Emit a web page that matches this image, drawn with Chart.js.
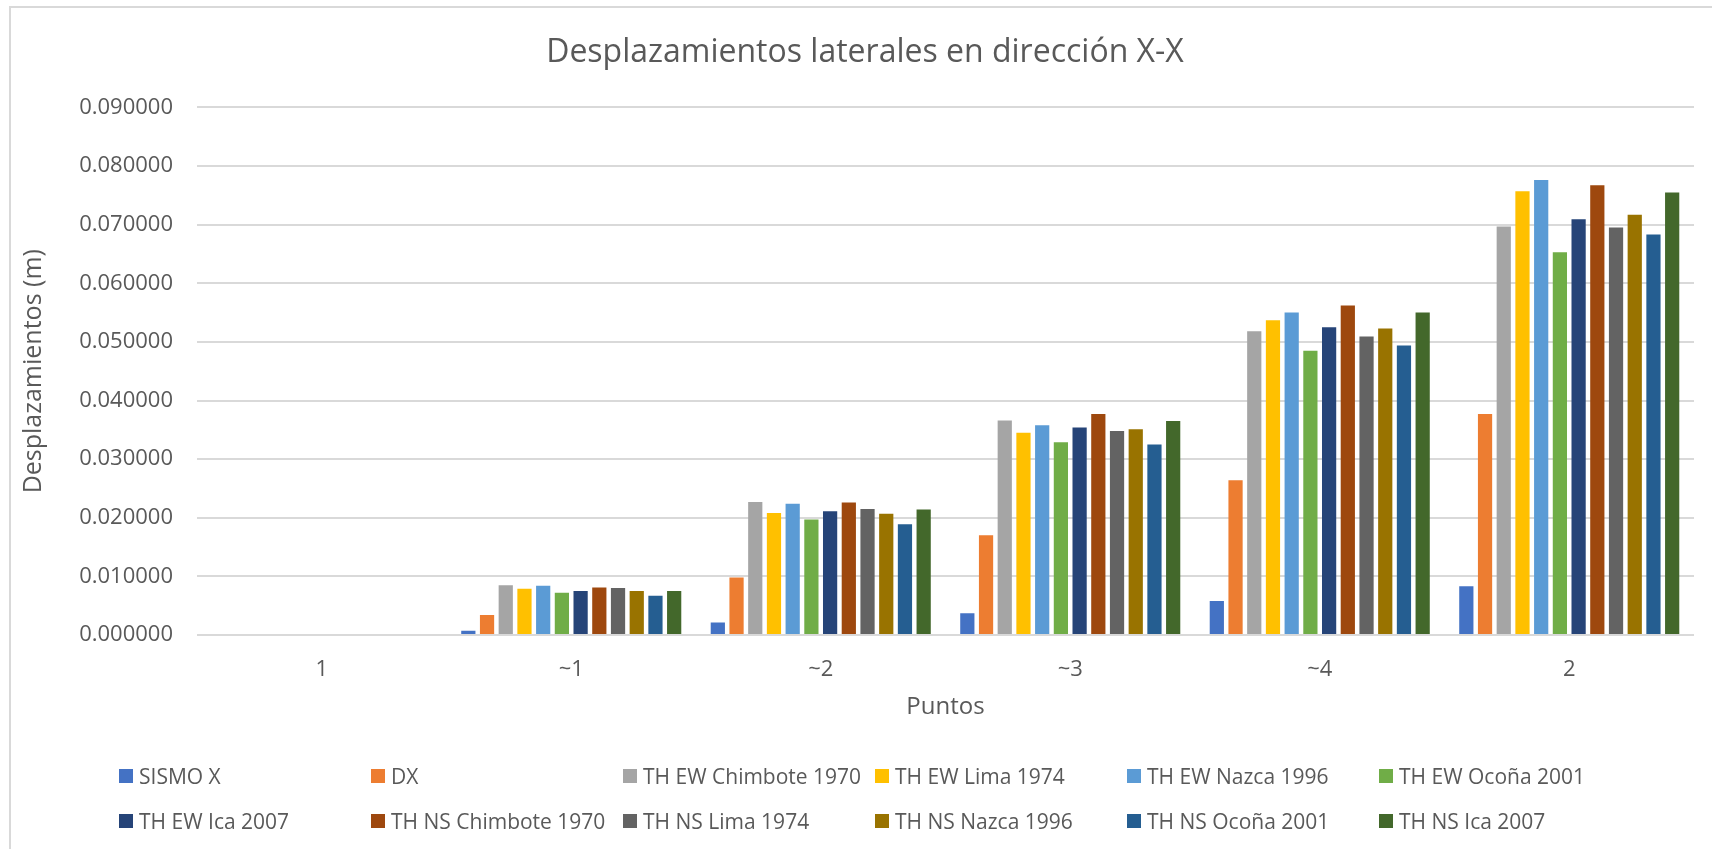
<!DOCTYPE html>
<html>
<head>
<meta charset="utf-8">
<script src="https://cdn.jsdelivr.net/npm/chart.js@4.4.1/dist/chart.umd.min.js"></script>
<style>
  body { margin: 0; background: #fff; overflow: hidden; }
  #wrap { position: relative; width: 1712px; height: 849px; }
  #frame { position: absolute; left: 9px; top: 6px; width: 1800px; height: 1000px; border: 2px solid #d9d9d9; box-sizing: border-box; }
  #chart { position: absolute; left: 0; top: 0; }
  #legend { position: absolute; left: 0; top: 0; font-family: "Open Sans", sans-serif; font-size: 21px; color: #595959; }
  .item { position: absolute; display: flex; align-items: center; white-space: nowrap; height: 30px; }
  .swatch { width: 14px; height: 14px; margin-right: 6px; }
</style>
</head>
<body>
<div id="wrap">
  <div id="frame"></div>
  <canvas id="chart" width="1712" height="849"></canvas>
  <div id="legend"></div>
</div>
<script>
const categories = ['1', '~1', '~2', '~3', '~4', '2']

const seriesNames = [
  'SISMO X', 'DX', 'TH EW Chimbote 1970', 'TH EW Lima 1974', 'TH EW Nazca 1996', 'TH EW Ocoña 2001',
  'TH EW Ica 2007', 'TH NS Chimbote 1970', 'TH NS Lima 1974', 'TH NS Nazca 1996', 'TH NS Ocoña 2001', 'TH NS Ica 2007'
]

const seriesColors = [
  '#4472c4', '#ed7d31', '#a5a5a5', '#ffc000', '#5b9bd5', '#70ad47',
  '#264478', '#9e480e', '#636363', '#997300', '#255e91', '#43682b'
]

// desplazamientos (m) por punto
const sismoX = [0, 0.00073, 0.00213, 0.0037, 0.0058, 0.0083]
const dx = [0, 0.0034, 0.0098, 0.0170, 0.0264, 0.0377]
const ewChimbote = [0, 0.0085, 0.0227, 0.0366, 0.0518, 0.0697]
const ewLima = [0, 0.0079, 0.0208, 0.0345, 0.0537, 0.0757]
const ewNazca = [0, 0.0084, 0.0224, 0.0358, 0.0550, 0.0776]
const ewOcona = [0, 0.0072, 0.0197, 0.0329, 0.0485, 0.0653]
const ewIca = [0, 0.0075, 0.0211, 0.0354, 0.0525, 0.0709]
const nsChimbote = [0, 0.0081, 0.0226, 0.0377, 0.0562, 0.0767]
const nsLima = [0, 0.0080, 0.0215, 0.0348, 0.0509, 0.0695]
const nsNazca = [0, 0.0075, 0.0207, 0.0351, 0.0523, 0.0717]
const nsOcona = [0, 0.0067, 0.0189, 0.0325, 0.0494, 0.0683]
const nsIca = [0, 0.0075, 0.0214, 0.0365, 0.0550, 0.0755]

const seriesValues = [sismoX, dx, ewChimbote, ewLima, ewNazca, ewOcona, ewIca, nsChimbote, nsLima, nsNazca, nsOcona, nsIca]

const textColor = '#595959'
const fontFamily = '"Open Sans", sans-serif'

const ctx = document.getElementById('chart').getContext('2d')

new Chart(ctx, {
  type: 'bar',
  data: {
    labels: categories,
    datasets: seriesNames.map((name, i) => ({
      label: name,
      data: seriesValues[i],
      backgroundColor: seriesColors[i],
      categoryPercentage: 0.9,
      barPercentage: 0.76
    }))
  },
  options: {
    responsive: false,
    animation: false,
    layout: {
      padding: { left: 36, right: 18, top: 0, bottom: 114 }
    },
    plugins: {
      legend: { display: false },
      tooltip: { enabled: false },
      title: {
        display: true,
        text: 'Desplazamientos laterales en dirección X-X',
        color: textColor,
        font: { family: fontFamily, size: 32, weight: 'normal' },
        padding: { top: 34, bottom: 35 }
      }
    },
    scales: {
      x: {
        grid: { display: false },
        border: { display: false },
        ticks: {
          color: textColor,
          font: { family: fontFamily, size: 22 },
          padding: 14
        },
        title: {
          display: true,
          text: 'Puntos',
          color: textColor,
          font: { family: fontFamily, size: 24 },
          padding: { top: 0, bottom: 13 }
        },
        afterFit: function(scale) {
          scale.height = 100
        }
      },
      y: {
        min: 0,
        max: 0.09,
        grid: {
          color: '#d9d9d9',
          lineWidth: 2,
          drawTicks: false
        },
        border: { display: false },
        ticks: {
          stepSize: 0.01,
          color: textColor,
          font: { family: fontFamily, size: 22 },
          padding: 24,
          callback: function(value) {
            return value.toFixed(6)
          }
        },
        title: {
          display: true,
          text: 'Desplazamientos (m)',
          color: textColor,
          font: { family: fontFamily, size: 25 },
          padding: { top: -17, bottom: 0 }
        },
        afterFit: function(scale) {
          scale.width = 161
        }
      }
    }
  }
})

// leyenda en seis columnas, como en la hoja original
const legend = document.getElementById('legend')
seriesNames.forEach((name, i) => {
  const col = i % 6
  const row = Math.floor(i / 6)
  const item = document.createElement('div')
  item.className = 'item'
  item.style.left = (119 + col * 252) + 'px'
  item.style.top = (761 + row * 45) + 'px'
  const swatch = document.createElement('span')
  swatch.className = 'swatch'
  swatch.style.background = seriesColors[i]
  const label = document.createElement('span')
  label.textContent = name
  item.appendChild(swatch)
  item.appendChild(label)
  legend.appendChild(item)
})
</script>
</body>
</html>
